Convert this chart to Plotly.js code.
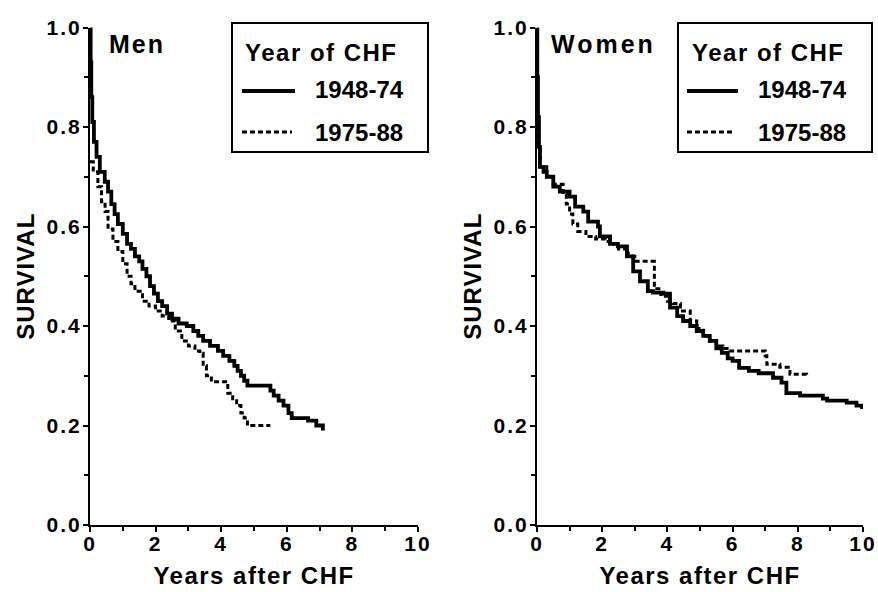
<!DOCTYPE html>
<html>
<head>
<meta charset="utf-8">
<script src="https://cdn.plot.ly/plotly-3.0.1.min.js"></script>
<style>
  html, body { margin: 0; padding: 0; background: #fff; }
  #chart { width: 878px; height: 592px; }
  .xaxislayer-above text, .yaxislayer-above text { letter-spacing: 2px; }
  .g-xtitle text, .g-x2title text { letter-spacing: 1.5px; }
  .g-ytitle text, .g-y2title text { letter-spacing: 1px; }
</style>
</head>
<body>
<div id="chart"></div>
<script>
// ---- Data ----
const panelNames = ["Men", "Women"];
const seriesNames = ["1948-74", "1975-88"];
const legendTitle = "Year of CHF";
const xTitle = "Years after CHF";
const yTitle = "SURVIVAL";

const menEarlyX = [0,0.02,0.04,0.07,0.12,0.2,0.3,0.45,0.55,0.65,0.75,0.85,1.0,1.13,1.25,1.37,1.5,1.6,1.72,1.83,1.95,2.07,2.2,2.35,2.5,2.7,2.95,3.15,3.3,3.45,3.66,3.9,4.06,4.25,4.4,4.5,4.6,4.7,4.8,5.5,5.6,5.75,5.9,6.05,6.15,6.65,6.9,7.1];
const menEarlyY = [1.0,0.93,0.86,0.81,0.77,0.74,0.71,0.69,0.67,0.645,0.625,0.605,0.585,0.565,0.555,0.54,0.53,0.515,0.50,0.48,0.465,0.45,0.44,0.425,0.415,0.405,0.40,0.39,0.38,0.37,0.36,0.35,0.34,0.33,0.32,0.31,0.30,0.29,0.28,0.27,0.26,0.25,0.24,0.225,0.215,0.21,0.20,0.19];

const menLateX = [0,0.1,0.24,0.35,0.46,0.55,0.7,0.85,1.0,1.13,1.25,1.37,1.6,1.8,2.0,2.2,2.4,2.6,2.8,3.0,3.2,3.35,3.45,3.55,3.7,4.1,4.2,4.35,4.47,4.6,4.7,4.8,5.5];
const menLateY = [0.73,0.71,0.68,0.65,0.63,0.595,0.57,0.55,0.525,0.50,0.485,0.47,0.45,0.44,0.43,0.42,0.41,0.39,0.37,0.36,0.35,0.345,0.32,0.30,0.288,0.288,0.265,0.25,0.24,0.225,0.215,0.20,0.20];

const womenEarlyX = [0,0.01,0.03,0.06,0.09,0.2,0.3,0.5,0.7,1.0,1.17,1.42,1.57,1.87,1.93,2.24,2.48,2.76,2.95,3.16,3.4,3.56,3.87,4.08,4.3,4.48,4.7,4.9,5.1,5.3,5.5,5.67,5.85,6.0,6.2,6.5,6.8,7.24,7.5,7.65,8.07,8.77,8.9,9.5,9.8,9.97];
const womenEarlyY = [1.0,0.9,0.82,0.76,0.72,0.71,0.70,0.68,0.67,0.66,0.64,0.63,0.61,0.60,0.58,0.565,0.56,0.54,0.51,0.49,0.47,0.467,0.465,0.437,0.42,0.41,0.40,0.39,0.38,0.37,0.355,0.346,0.335,0.33,0.316,0.31,0.305,0.296,0.286,0.265,0.26,0.254,0.25,0.246,0.24,0.233];

const womenLateX = [0,0.04,0.1,0.3,0.5,0.8,0.9,1.0,1.1,1.25,1.5,1.8,2.1,2.3,2.5,2.8,3.0,3.6,3.8,4.0,4.17,4.4,4.7,4.9,5.1,5.3,5.5,5.7,5.9,6.84,7.0,7.05,7.45,7.76,8.27];
const womenLateY = [0.80,0.76,0.72,0.70,0.685,0.665,0.645,0.625,0.605,0.59,0.58,0.575,0.57,0.565,0.555,0.54,0.53,0.475,0.46,0.45,0.445,0.43,0.41,0.395,0.38,0.37,0.36,0.355,0.35,0.35,0.34,0.323,0.317,0.303,0.30];

const xTickVals = [0,2,4,6,8,10];
const yTickVals = [0,0.2,0.4,0.6,0.8,1.0];

// ---- Styles ----
const FONT = "Liberation Sans, Arial, Helvetica, sans-serif";
const solidLine = {color: "#000", width: 3.8, dash: "solid", shape: "hv"};
const dashLine = {color: "#000", width: 3, dash: "5px,3px", shape: "hv"};

const traces = [
  {x: menEarlyX, y: menEarlyY, xaxis: "x", yaxis: "y", name: seriesNames[0], mode: "lines", line: solidLine},
  {x: menLateX, y: menLateY, xaxis: "x", yaxis: "y", name: seriesNames[1], mode: "lines", line: dashLine},
  {x: womenEarlyX, y: womenEarlyY, xaxis: "x2", yaxis: "y2", name: seriesNames[0], mode: "lines", line: solidLine},
  {x: womenLateX, y: womenLateY, xaxis: "x2", yaxis: "y2", name: seriesNames[1], mode: "lines", line: dashLine}
];

const W = 878, H = 592;
const px = v => v / W;
const py = v => (H - v) / H;

function xAxis(domain, anchor) {
  return {
    domain: domain, anchor: anchor, range: [0, 10],
    showline: true, linewidth: 2, linecolor: "#000",
    ticks: "outside", ticklen: 5, tickwidth: 2, tickcolor: "#000",
    ticklabelstandoff: -6,
    tickvals: xTickVals, ticktext: xTickVals.map(String),
    minor: {dtick: 1, tick0: 0, ticks: "outside", ticklen: 4, tickwidth: 2, tickcolor: "#000", showgrid: false},
    showgrid: false, zeroline: false, fixedrange: true,
    tickfont: {family: FONT, size: 21, color: "#000", weight: "bold"},
    title: {text: xTitle, font: {family: FONT, size: 24, color: "#000", weight: "bold"}, standoff: 13}
  };
}
function yAxis(domain, anchor) {
  return {
    domain: domain, anchor: anchor, range: [0, 1],
    showline: true, linewidth: 2, linecolor: "#000",
    ticks: "outside", ticklen: 5, tickwidth: 2, tickcolor: "#000",
    ticklabelstandoff: -3,
    tickvals: yTickVals, ticktext: yTickVals.map(v => v.toFixed(1)),
    minor: {dtick: 0.1, tick0: 0, ticks: "outside", ticklen: 4, tickwidth: 2, tickcolor: "#000", showgrid: false},
    showgrid: false, zeroline: false, fixedrange: true,
    tickfont: {family: FONT, size: 21, color: "#000", weight: "bold"},
    title: {text: yTitle, font: {family: FONT, size: 24, color: "#000", weight: "bold"}, standoff: 11}
  };
}

const yDom = [py(525), py(27.5)];

function spaced(t, s) { return "<span style='letter-spacing:" + s + "px'>" + t + "</span>"; }

// legend boxes built from shapes + text
function legendParts(x0, x1, y0, y1, lineX0, lineX1, textX, titleX) {
  const shapes = [
    {type: "rect", xref: "paper", yref: "paper", x0: px(x0), x1: px(x1), y0: py(y1), y1: py(y0), line: {color: "#000", width: 2}, fillcolor: "#fff"},
    {type: "line", xref: "paper", yref: "paper", x0: px(lineX0), x1: px(lineX1 + 3), y0: py(91), y1: py(91), line: {color: "#000", width: 3.8}},
    {type: "line", xref: "paper", yref: "paper", x0: px(lineX0), x1: px(lineX1), y0: py(132), y1: py(132), line: {color: "#000", width: 3, dash: "5px,3px"}}
  ];
  const f = {family: FONT, size: 24, color: "#000", weight: "bold"};
  const ann = [
    {text: spaced(legendTitle, 1.5), x: px(titleX), y: py(53), xref: "paper", yref: "paper", xanchor: "left", yanchor: "middle", showarrow: false, font: f},
    {text: seriesNames[0], x: px(textX), y: py(90), xref: "paper", yref: "paper", xanchor: "left", yanchor: "middle", showarrow: false, font: f},
    {text: seriesNames[1], x: px(textX), y: py(132), xref: "paper", yref: "paper", xanchor: "left", yanchor: "middle", showarrow: false, font: f}
  ];
  return {shapes, ann};
}
const L1 = legendParts(232, 428, 23, 152, 242, 292, 313, 243);
const L2 = legendParts(678, 872, 23, 152, 687, 735, 756, 690);

const layout = {
  width: W, height: H,
  margin: {l: 0, r: 0, t: 0, b: 0},
  paper_bgcolor: "#fff", plot_bgcolor: "#fff",
  showlegend: false,
  font: {family: FONT, color: "#000"},
  xaxis: xAxis([px(90), px(418)], "y"),
  yaxis: yAxis(yDom, "x"),
  xaxis2: xAxis([px(537), px(863)], "y2"),
  yaxis2: yAxis(yDom, "x2"),
  shapes: L1.shapes.concat(L2.shapes),
  annotations: [
    {text: spaced(panelNames[0], 2), x: px(107), y: py(44), xref: "paper", yref: "paper", xanchor: "left", yanchor: "middle", showarrow: false, font: {family: FONT, size: 25, color: "#000", weight: "bold"}},
    {text: spaced(panelNames[1], 3), x: px(549), y: py(44), xref: "paper", yref: "paper", xanchor: "left", yanchor: "middle", showarrow: false, font: {family: FONT, size: 25, color: "#000", weight: "bold"}}
  ].concat(L1.ann, L2.ann)
};

Plotly.newPlot("chart", traces, layout, {displayModeBar: false, staticPlot: true});
</script>
</body>
</html>
